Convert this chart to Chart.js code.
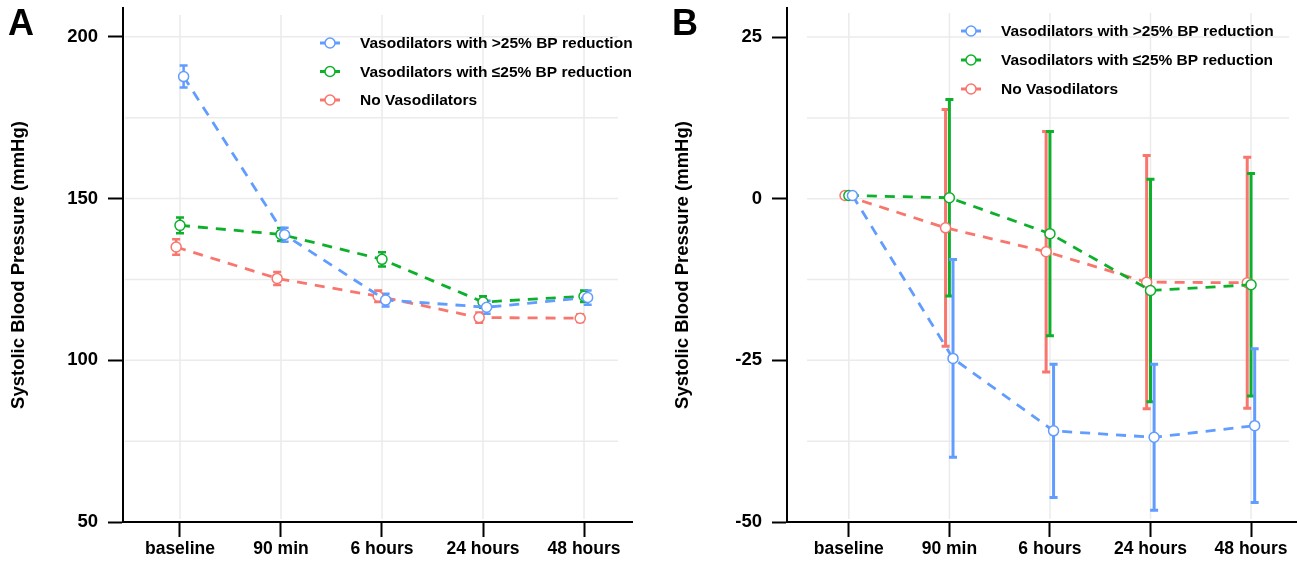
<!DOCTYPE html>
<html>
<head>
<meta charset="utf-8">
<script src="https://cdn.jsdelivr.net/npm/chart.js@4.4.1/dist/chart.umd.min.js"></script>
<style>
  html, body { margin: 0; padding: 0; background: #fff; }
  .panel { position: absolute; top: 0; width: 633px; height: 562px; }
  #panelA { left: 0; }
  #panelB { left: 664px; }
</style>
</head>
<body>
<div class="panel" id="panelA"><canvas id="chartA" width="633" height="562"></canvas></div>
<div class="panel" id="panelB"><canvas id="chartB" width="633" height="562"></canvas></div>
<script>
// --- DATA ---
const timepoints = ['baseline', '90 min', '6 hours', '24 hours', '48 hours'];
const seriesNames = ['Vasodilators with >25% BP reduction', 'Vasodilators with \u226425% BP reduction', 'No Vasodilators'];
const seriesColors = ['#619CFF', '#0DB02B', '#F8766D'];
const dodge = [0.036, 0, -0.038]; // small horizontal shift per group

// Panel A - systolic BP (mmHg), mean and error half-width
const absHigh = [187.7, 138.8, 118.6, 116.4, 119.4];
const absHighErr = [3.4, 2.2, 2.0, 2.0, 2.2];
const absLow = [141.7, 138.9, 131.2, 118.0, 119.8];
const absLowErr = [2.4, 2.0, 2.2, 1.8, 1.8];
const absNone = [135.0, 125.3, 119.8, 113.2, 113.0];
const absNoneErr = [2.4, 2.0, 1.8, 1.6, 1.2];
const absTicks = [50, 100, 150, 200];
const absMinor = [75, 125, 175];

// Panel B - change from baseline (mmHg)
const chgHigh = [0.5, -24.7, -35.9, -36.9, -35.1];
const chgHighErr = [0, 15.3, 10.3, 11.3, 11.9];
const chgLow = [0.5, 0.15, -5.4, -14.2, -13.3];
const chgLowErr = [0, 15.2, 15.8, 17.2, 17.2];
const chgNone = [0.5, -4.5, -8.2, -12.9, -13.0];
const chgNoneErr = [0, 18.3, 18.6, 19.6, 19.4];
const chgTicks = [-50, -25, 0, 25];
const chgMinor = [-37.5, -12.5, 12.5];

const FONT = '"Liberation Sans", Arial, Helvetica, sans-serif';

// --- grid, error bars, legend and panel letter ---
const panelDecor = {
    id: 'panelDecor',
    beforeDatasetsDraw(chart, args, opts) {
        const { ctx, chartArea: a, scales: { x, y } } = chart;
        const gl = a.left + opts.grid.left, gr = a.right - opts.grid.right;
        const gt = a.top + opts.grid.top, gb = a.bottom - opts.grid.bottom;
        ctx.save();
        ctx.strokeStyle = '#EBEBEB';
        ctx.lineWidth = 1.5;
        ctx.beginPath();
        timepoints.forEach((_, i) => {
            const px = x.getPixelForValue(i);
            ctx.moveTo(px, gt); ctx.lineTo(px, gb);
        });
        opts.ticks.concat(opts.minor).forEach(v => {
            const py = y.getPixelForValue(v);
            if (py >= gt && py <= gb) { ctx.moveTo(gl, py); ctx.lineTo(gr, py); }
        });
        ctx.stroke();

        // error bars (last group first so the first one ends on top)
        for (let i = chart.data.datasets.length - 1; i >= 0; i--) {
            const ds = chart.data.datasets[i];
            const meta = chart.getDatasetMeta(i);
            ctx.strokeStyle = ds.borderColor;
            ctx.lineWidth = opts.errWidth;
            ds.err.forEach((e, j) => {
                if (!e) return;
                const px = meta.data[j].x, v = ds.data[j].y;
                const top = y.getPixelForValue(v + e), bot = y.getPixelForValue(v - e);
                ctx.beginPath();
                ctx.moveTo(px, top); ctx.lineTo(px, bot);
                ctx.moveTo(px - 4, top); ctx.lineTo(px + 4, top);
                ctx.moveTo(px - 4, bot); ctx.lineTo(px + 4, bot);
                ctx.stroke();
            });
        }
        ctx.restore();
    },
    afterDraw(chart, args, opts) {
        const ctx = chart.ctx;
        ctx.save();
        ctx.fillStyle = '#000';
        ctx.font = 'bold 36px ' + FONT;
        ctx.textBaseline = 'alphabetic';
        ctx.fillText(opts.letter, 8, 35);

        const lg = opts.legend;
        ctx.font = 'bold 15.5px ' + FONT;
        ctx.textBaseline = 'middle';
        seriesNames.forEach((name, i) => {
            const yy = lg.y + i * lg.gap;
            ctx.strokeStyle = seriesColors[i];
            ctx.lineWidth = 3;
            ctx.beginPath();
            ctx.moveTo(lg.x - 10, yy); ctx.lineTo(lg.x + 10, yy);
            ctx.stroke();
            ctx.lineWidth = 1.5;
            ctx.fillStyle = '#fff';
            ctx.beginPath();
            ctx.arc(lg.x, yy, 5, 0, Math.PI * 2);
            ctx.fill(); ctx.stroke();
            ctx.fillStyle = '#000';
            ctx.fillText(name, lg.x + 30, yy + 1);
        });
        ctx.restore();
    }
};

function makePanel(canvasId, series, errs, cfg) {
    const datasets = series.map((vals, i) => ({
        label: seriesNames[i],
        data: vals.map((v, j) => ({ x: j + dodge[i], y: v })),
        err: errs[i],
        borderColor: seriesColors[i],
        backgroundColor: '#fff',
        borderWidth: 2.8,
        borderDash: [10, 8],
        tension: 0,
        fill: false,
        pointRadius: 5,
        pointBorderWidth: 1.5,
        pointBackgroundColor: '#fff',
        pointBorderColor: seriesColors[i]
    }));

    const tickFont = size => ({ family: FONT, size: size, weight: 'bold' });
    const axisGrid = { drawOnChartArea: false, tickLength: 15, tickWidth: 2, tickColor: '#000' };
    const axisBorder = { color: '#000', width: 2 };

    return new Chart(document.getElementById(canvasId), {
        type: 'line',
        data: { datasets },
        plugins: [panelDecor],
        options: {
            responsive: false,
            animation: false,
            devicePixelRatio: 1,
            layout: { autoPadding: false, padding: { top: 8, left: 0, right: 1, bottom: 0 } },
            plugins: {
                legend: { display: false },
                tooltip: { enabled: false },
                panelDecor: {
                    letter: cfg.letter,
                    legend: cfg.legend,
                    grid: cfg.grid,
                    ticks: cfg.ticks,
                    minor: cfg.minor,
                    errWidth: cfg.errWidth
                }
            },
            scales: {
                x: {
                    type: 'linear',
                    min: cfg.xMin,
                    max: cfg.xMax,
                    afterBuildTicks: s => { s.ticks = timepoints.map((_, i) => ({ value: i })); },
                    afterFit: s => { s.height = 40; s.paddingLeft = 0; s.paddingRight = 0; },
                    ticks: {
                        callback: v => timepoints[v],
                        color: '#000', font: tickFont(17.5), padding: 2,
                        autoSkip: false, maxRotation: 0
                    },
                    grid: axisGrid,
                    border: axisBorder
                },
                y: {
                    min: cfg.yMin,
                    max: cfg.yMax,
                    afterBuildTicks: s => { s.ticks = cfg.ticks.map(v => ({ value: v })); },
                    afterFit: s => { s.width = 123; s.paddingTop = 0; s.paddingBottom = 0; },
                    ticks: { color: '#000', font: tickFont(18.5), padding: 10 },
                    grid: axisGrid,
                    border: axisBorder,
                    title: {
                        display: true,
                        text: 'Systolic Blood Pressure (mmHg)',
                        color: '#000',
                        font: tickFont(18.5),
                        padding: { top: 8, bottom: 0 }
                    }
                }
            }
        }
    });
}

document.addEventListener('DOMContentLoaded', () => {
    makePanel('chartA', [absHigh, absLow, absNone], [absHighErr, absLowErr, absNoneErr], {
        letter: 'A',
        xMin: -0.564, xMax: 4.475,
        yMin: 50, yMax: 208.9,
        ticks: absTicks, minor: absMinor,
        grid: { left: 2, right: 14, top: 7, bottom: 3 },
        legend: { x: 330, y: 43, gap: 28.5 },
        errWidth: 2.5
    });
    makePanel('chartB', [chgHigh, chgLow, chgNone], [chgHighErr, chgLowErr, chgNoneErr], {
        letter: 'B',
        xMin: -0.615, xMax: 4.447,
        yMin: -50, yMax: 29.5,
        ticks: chgTicks, minor: chgMinor,
        grid: { left: 20, right: 7, top: 5, bottom: 3 },
        legend: { x: 307, y: 31, gap: 29 },
        errWidth: 3
    });
});
</script>
</body>
</html>
